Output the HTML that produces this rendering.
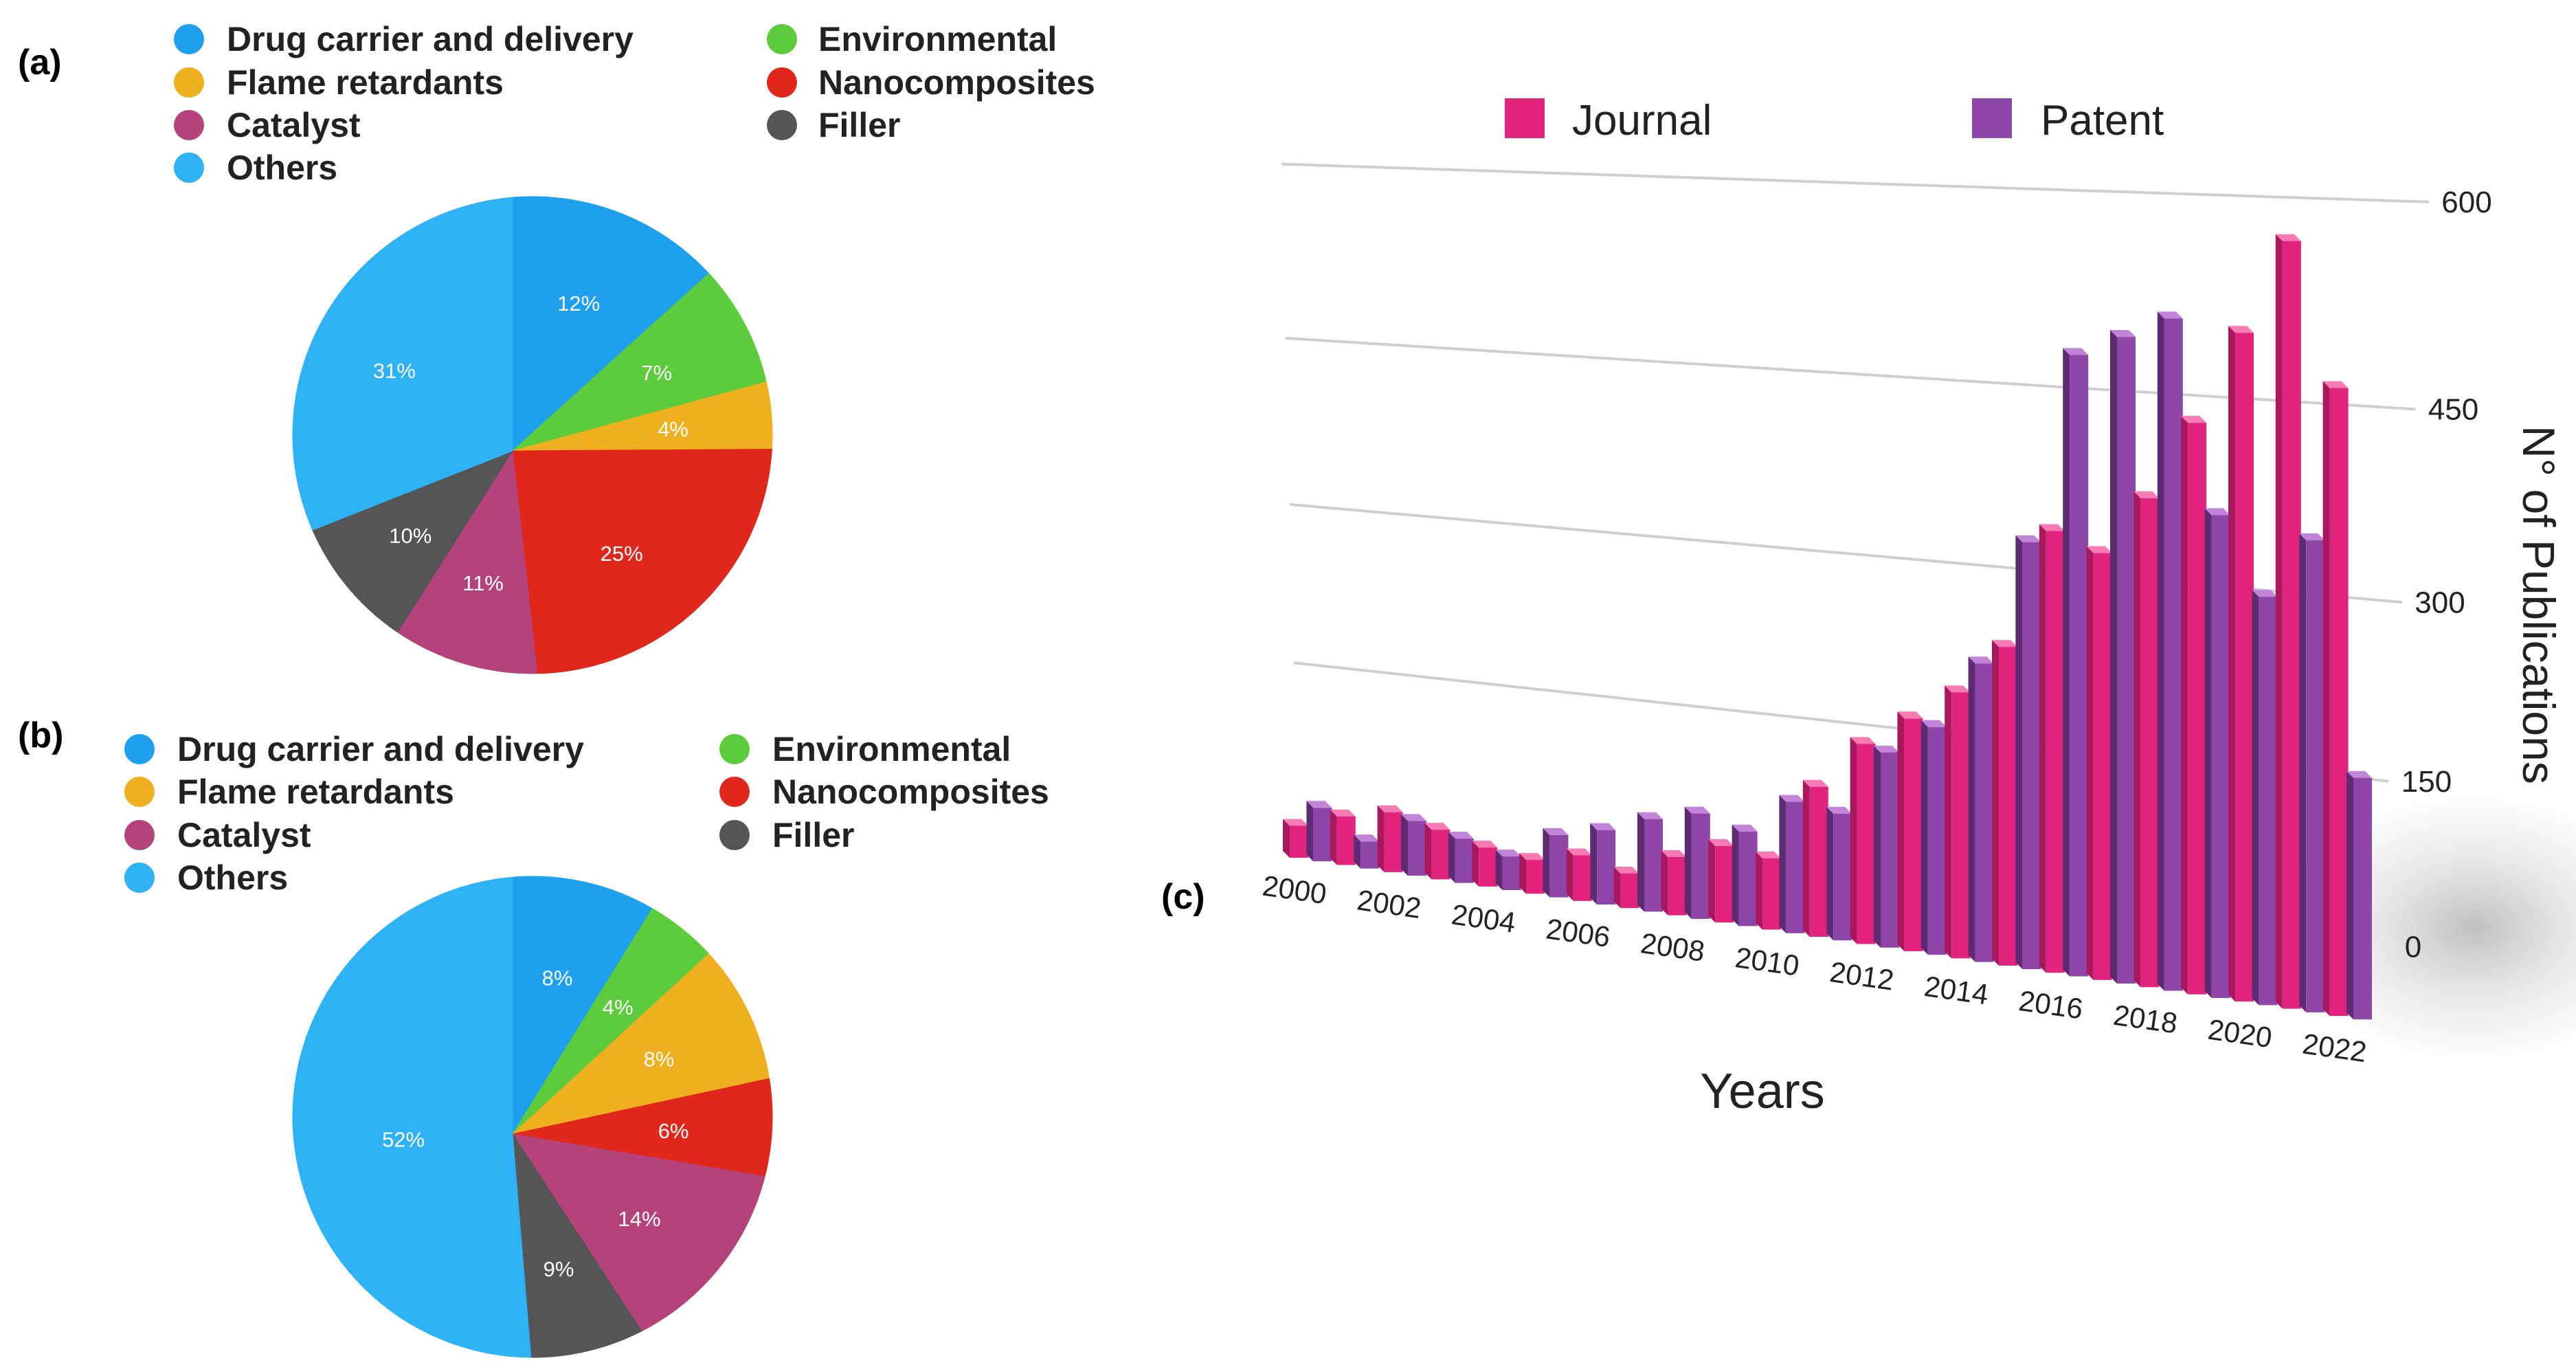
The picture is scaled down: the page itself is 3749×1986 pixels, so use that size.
<!DOCTYPE html>
<html><head><meta charset="utf-8"><style>
html,body{margin:0;padding:0;background:#fff;}
svg{display:block;font-family:"Liberation Sans",sans-serif;}
</style></head><body>
<svg id="fig" width="3749" height="1986" viewBox="0 0 3749 1986" xmlns="http://www.w3.org/2000/svg">
<defs>
<radialGradient id="shadow" cx="0.5" cy="0.5" r="0.5"><stop offset="0" stop-color="#aaa" stop-opacity="0.75"/><stop offset="0.6" stop-color="#ddd" stop-opacity="0.4"/><stop offset="1" stop-color="#fff" stop-opacity="0"/></radialGradient>
</defs>
<g id="pieA"></g>
<g id="pieB"></g>
<g id="legA"></g>
<g id="legB"></g>
<text x="26" y="108" font-size="52" font-weight="bold">(a)</text>
<text x="26" y="1087" font-size="52" font-weight="bold">(b)</text>
<text x="1690" y="1322" font-size="52" font-weight="bold">(c)</text>
<ellipse cx="3600" cy="1350" rx="330" ry="230" fill="url(#shadow)"/>
<g id="grid"></g>
<g id="bars"></g>
<g id="xlab"></g>
<g id="ylab"></g>
<text transform="translate(3672,880) rotate(90)" font-size="66" text-anchor="middle" fill="#222">N° of Publications</text>
<text x="2565" y="1612" font-size="72" text-anchor="middle" fill="#222">Years</text>
<g>
<rect x="2190" y="143" width="58" height="58" fill="#e3247f"/>
<text x="2288" y="196" font-size="62" fill="#222">Journal</text>
<rect x="2870" y="143" width="58" height="58" fill="#8e46a8"/>
<text x="2970" y="196" font-size="62" fill="#222">Patent</text>
</g>
</svg>
<script>
const NS="http://www.w3.org/2000/svg";
const pieCategories=["Drug carrier and delivery","Environmental","Flame retardants","Nanocomposites","Catalyst","Filler","Others"];
const pieColors=["#1ea0ef","#5ccc3c","#eeb01e","#e0271b","#b4437c","#555555","#2eb2f5"];
const pieAValues=[12,7,4,25,11,10,31];
const pieBValues=[8,4,8,6,14,9,52];
const years=[2000,2001,2002,2003,2004,2005,2006,2007,2008,2009,2010,2011,2012,2013,2014,2015,2016,2017,2018,2019,2020,2021,2022];
const journalValues=[30,45,55,45,35,30,40,30,50,65,60,125,165,190,215,255,350,335,380,440,510,580,470];
const patentValues=[50,25,50,40,30,55,65,80,90,80,110,105,160,185,240,340,490,505,520,370,310,355,180];
const yTicks=[0,150,300,450,600];
const xTickLabels=["2000","2002","2004","2006","2008","2010","2012","2014","2016","2018","2020","2022"];

function mk(tag,attrs,parent){const e=document.createElementNS(NS,tag);for(const k in attrs)e.setAttribute(k,attrs[k]);parent.appendChild(e);return e;}

function warp(th){return th<Math.PI?th+0.12*Math.sin(th):th;}
function drawPie(g,vals,cx,cy,rx,ry,ax,ay,suffix){
  const total=vals.reduce((a,b)=>a+b,0);
  function edge(th0){const th=warp(th0);const dx=Math.sin(th),dy=-Math.cos(th);
    const px=(ax-cx)/rx,py=(ay-cy)/ry,ux=dx/rx,uy=dy/ry;
    const A=ux*ux+uy*uy,B=2*(px*ux+py*uy),C=px*px+py*py-1;
    const t=(-B+Math.sqrt(B*B-4*A*C))/(2*A);return [ax+t*dx,ay+t*dy,t];}
  let acc=0;
  vals.forEach((v,i)=>{
    const a0=acc/total*2*Math.PI;acc+=v;const a1=acc/total*2*Math.PI;
    let d="M"+ax+","+ay;const n=60;
    for(let k=0;k<=n;k++){const p=edge(a0+(a1-a0)*k/n);d+=" L"+p[0].toFixed(1)+","+p[1].toFixed(1);}
    d+=" Z";
    const p=mk("path",{d:d,fill:pieColors[i],stroke:pieColors[i],"stroke-width":1},g);
    
    
  });
  acc=0;
  vals.forEach((v,i)=>{
    const am=(acc+v/2)/total*2*Math.PI;acc+=v;
    const e=edge(am);const f=v>40?0.5:0.62;
    const x=ax+(e[0]-ax)*f,y=ay+(e[1]-ay)*f;
    const t=mk("text",{x:x.toFixed(1),y:(y+11).toFixed(1),"font-size":31,fill:"#fff","text-anchor":"middle"},g);
    t.textContent=v+"%";
    
    
  });
}
drawPie(document.getElementById("pieA"),pieAValues,775,633,349,347,746,656,"a");
drawPie(document.getElementById("pieB"),pieBValues,775,1625,349,350,746,1650,"b");

function drawLegend(g,dx1,tx1,dx2,tx2,ys){
  const order=[[0,0],[2,0],[4,0],[6,0],[1,1],[3,1],[5,1]];
  const rows=[0,1,2,3,0,1,2];
  order.forEach((o,k)=>{
    const ci=o[0],col=o[1],y=ys[rows[k]];
    const c=mk("circle",{cx:col?dx2:dx1,cy:y,r:22,fill:pieColors[ci]},g);
    
    
    const t=mk("text",{x:col?tx2:tx1,y:y+17,"font-size":50,"font-weight":"bold",fill:"#222"},g);
    t.textContent=pieCategories[ci];
    
    
  });
}
drawLegend(document.getElementById("legA"),275,330,1138,1191,[57,120,182,244]);
drawLegend(document.getElementById("legB"),203,258,1069,1124,[1090,1152,1215,1277]);

// bar chart (pseudo-3D projection)
const X0=1877,STEP=34.4,BW=27,BASE0=1248,BSLOPE=0.152,S0=1.55,SSLOPE=0.00026,DX=-10,DY=-10;
function xPos(j){return X0+j*STEP;}
function baseY(x){return BASE0+(x-X0)*BSLOPE;}
function scl(x){return S0+(x-X0)*SSLOPE;}
const gridG=document.getElementById("grid");
const wallL=1865,wallR=3535;
function wallY(v,x){
  const f=(x-wallL)/(wallR-wallL);
  const yl=2.391*(495-(0.595*v+0.000106*v*v));
  const yr=2.391*(580-(0.652*v+0.000183*v*v));
  return yl+(yr-yl)*f;}
yTicks.forEach(v=>{
  const xr=wallR-(600-v)*0.13;
  if(v>0){const l=mk("line",{x1:wallL+(600-v)*0.04,y1:wallY(v,wallL).toFixed(1),x2:xr.toFixed(1),y2:wallY(v,xr).toFixed(1),stroke:"#cfcfcf","stroke-width":4},gridG);
  
  }
  const t=mk("text",{x:(xr+55).toFixed(1),y:(wallY(v,xr)+15).toFixed(1),"font-size":44,fill:"#222","text-anchor":"middle"},document.getElementById("ylab"));
  t.textContent=v;
  
  
});
const barsG=document.getElementById("bars");
function bar(j,v,front,side,top,name){
  const x=xPos(j),b=baseY(x),h=v*scl(x),t=b-h;
  const s=mk("polygon",{points:`${x},${t} ${x+DX},${t+DY} ${x+DX},${b+DY} ${x},${b}`,fill:side},barsG);
  
  
  const c=mk("polygon",{points:`${x},${t} ${x+BW},${t} ${x+BW+DX},${t+DY} ${x+DX},${t+DY}`,fill:top},barsG);
  
  
  const r=mk("rect",{x:x,y:t.toFixed(1),width:BW,height:h.toFixed(1),fill:front},barsG);
  
  
}
years.forEach((y,i)=>{
  bar(2*i,journalValues[i],"#e3247f","#a8185c","#f77ab3","bar-journal-"+y);
  bar(2*i+1,patentValues[i],"#8e46a8","#5e2b72","#c184d8","bar-patent-"+y);
});
const xl=document.getElementById("xlab");
xTickLabels.forEach((lab,k)=>{
  const x=xPos(k*4)+5,y=baseY(x)+60;
  const t=mk("text",{x:x.toFixed(1),y:y.toFixed(1),"font-size":42,fill:"#222","text-anchor":"middle",transform:`rotate(8 ${x.toFixed(1)} ${y.toFixed(1)})`},xl);
  t.textContent=lab;
  
  
});
</script>
</body></html>
